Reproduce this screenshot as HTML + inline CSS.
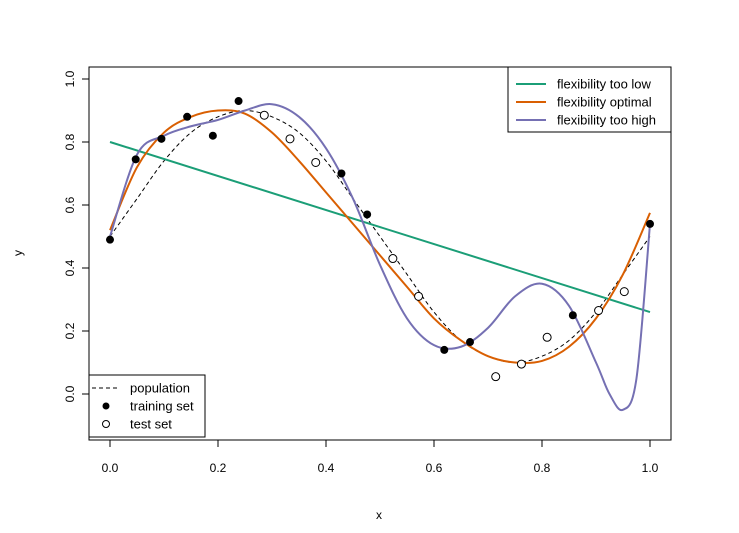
<!DOCTYPE html>
<html><head><meta charset="utf-8"><style>
body{margin:0;background:#fff}
svg text{font-family:"Liberation Sans",Arial,sans-serif;font-size:12px;fill:#000}
svg g text{font-size:13px}
</style></head><body>
<svg id="c" width="739" height="528" xmlns="http://www.w3.org/2000/svg"></svg>
<script>
const gridX=[0,0.05,0.1,0.15,0.2,0.25,0.3,0.35,0.4,0.45,0.5,0.55,0.6,0.65,0.7,0.75,0.8,0.85,0.9,0.95,1];
const population=[0.5,0.62,0.74,0.83,0.88,0.90,0.88,0.83,0.74,0.62,0.5,0.38,0.26,0.17,0.12,0.10,0.12,0.17,0.26,0.38,0.5];
const optimal=[0.52,0.72,0.83,0.88,0.90,0.89,0.83,0.74,0.64,0.54,0.44,0.34,0.24,0.17,0.12,0.10,0.105,0.15,0.24,0.38,0.575];
const highX=[0,0.05,0.1,0.15,0.2,0.25,0.3,0.35,0.4,0.45,0.5,0.55,0.6,0.65,0.7,0.75,0.8,0.85,0.9,0.925,0.95,0.975,1];
const highY=[0.50,0.76,0.82,0.85,0.87,0.90,0.92,0.88,0.78,0.62,0.41,0.24,0.155,0.15,0.21,0.31,0.35,0.28,0.10,0.0,-0.05,0.05,0.54];
const lowX=[0,1];
const lowY=[0.80,0.26];
const trainX=[0,1,2,3,4,5,9,10,13,14,18,21];
const trainY=[0.49,0.745,0.81,0.88,0.82,0.93,0.70,0.57,0.14,0.165,0.25,0.54];
const testX=[6,7,8,11,12,15,16,17,19,20];
const testY=[0.885,0.81,0.735,0.43,0.31,0.055,0.095,0.18,0.265,0.325];
const xTicks=[0,0.2,0.4,0.6,0.8,1];
const xTickLabels=["0.0","0.2","0.4","0.6","0.8","1.0"];
const yTicks=[0,0.2,0.4,0.6,0.8,1];
const yTickLabels=["0.0","0.2","0.4","0.6","0.8","1.0"];

const svg=document.getElementById('c');const NS='http://www.w3.org/2000/svg';
const sx=v=>110+v*540, sy=v=>394-v*315;
function mk(t,a,p){const e=document.createElementNS(NS,t);for(const k in a)e.setAttribute(k,a[k]);(p||svg).appendChild(e);return e;}
function smooth(xs,ys){const P=xs.map((x,i)=>[sx(x),sy(ys[i])]);let d='M'+P[0].join(',');
for(let i=0;i<P.length-1;i++){const p0=P[i-1]||P[i],p1=P[i],p2=P[i+1],p3=P[i+2]||P[i+1];
d+=` C${p1[0]+(p2[0]-p0[0])/6},${p1[1]+(p2[1]-p0[1])/6} ${p2[0]-(p3[0]-p1[0])/6},${p2[1]-(p3[1]-p1[1])/6} ${p2[0]},${p2[1]}`;}return d;}
let e;
e=mk('rect',{x:89,y:67,width:582,height:373,fill:'none',stroke:'#000'});


xTicks.forEach((v,i)=>{
 e=mk('line',{x1:sx(v),x2:sx(v),y1:440,y2:447,stroke:'#000'});
 
 
 e=mk('text',{x:sx(v),y:472,'text-anchor':'middle'});e.textContent=xTickLabels[i];
 
 
});
e=mk('line',{x1:sx(0),x2:sx(1),y1:440,y2:440,stroke:'#000'});
yTicks.forEach((v,i)=>{
 e=mk('line',{x1:82,x2:89,y1:sy(v),y2:sy(v),stroke:'#000'});
 
 
 e=mk('text',{x:0,y:0,'text-anchor':'middle',transform:`translate(74,${sy(v)}) rotate(-90)`});e.textContent=yTickLabels[i];
 
 
});
e=mk('text',{x:379,y:519,'text-anchor':'middle'});e.textContent='x';


e=mk('text',{x:0,y:0,'text-anchor':'middle',transform:'translate(22,253) rotate(-90)'});e.textContent='y';



e=mk('path',{d:smooth(gridX,population),fill:'none',stroke:'#000','stroke-dasharray':'4,3','stroke-width':1});


e=mk('path',{d:smooth(lowX,lowY),fill:'none',stroke:'#1b9e77','stroke-width':2});


e=mk('path',{d:smooth(gridX,optimal),fill:'none',stroke:'#d95f02','stroke-width':2});


e=mk('path',{d:smooth(highX,highY),fill:'none',stroke:'#7570b3','stroke-width':2});


trainX.forEach((k,i)=>{e=mk('circle',{cx:sx(k/21),cy:sy(trainY[i]),r:4,fill:'#000'});
 
 });
testX.forEach((k,i)=>{e=mk('circle',{cx:sx(k/21),cy:sy(testY[i]),r:4,fill:'#fff',stroke:'#000'});
 
 });

let g=mk('g',{});


mk('rect',{x:508,y:67,width:163,height:65,fill:'#fff',stroke:'#000'},g);
[['flexibility too low','#1b9e77'],['flexibility optimal','#d95f02'],['flexibility too high','#7570b3']].forEach((l,i)=>{
 const y=84+i*18;
 mk('line',{x1:516,x2:546,y1:y,y2:y,stroke:l[1],'stroke-width':2},g);
 e=mk('text',{x:557,y:y+4.5},g);e.textContent=l[0];
 
 
});
g=mk('g',{});


mk('rect',{x:89,y:375,width:116,height:62,fill:'#fff',stroke:'#000'},g);
mk('line',{x1:92,x2:120,y1:388,y2:388,stroke:'#000','stroke-dasharray':'4,3'},g);
mk('circle',{cx:106,cy:406,r:3.5,fill:'#000'},g);
mk('circle',{cx:106,cy:424,r:3.5,fill:'#fff',stroke:'#000'},g);
['population','training set','test set'].forEach((t,i)=>{e=mk('text',{x:130,y:392.5+i*18},g);e.textContent=t;
 
 });
</script>
</body></html>
